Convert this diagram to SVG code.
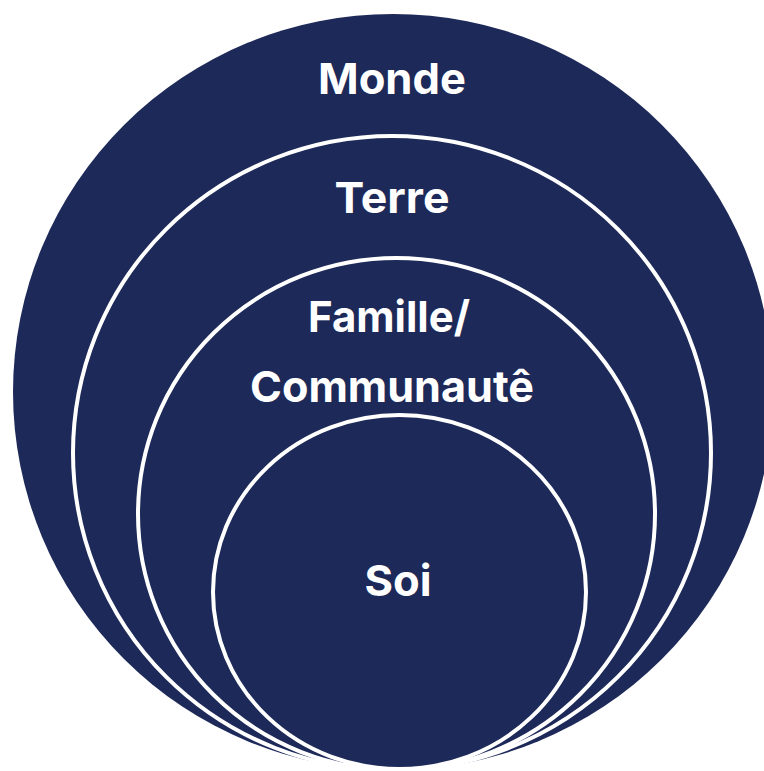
<svg xmlns="http://www.w3.org/2000/svg" width="764" height="771" viewBox="0 0 764 771">
  <style>
    .ring { fill: #1d2958; stroke: #ffffff; stroke-width: 4; }
    .lbl { fill: #ffffff; font-family: Inter, "Liberation Sans", sans-serif; font-weight: 700; font-size: 43px; text-anchor: middle; }
  </style>
  <rect width="764" height="771" fill="#ffffff"/>
  <g id="monde">
    <ellipse cx="393" cy="392" rx="380" ry="378" fill="#1d2958"/>
    <text class="lbl" x="392" y="94" textLength="148" lengthAdjust="spacingAndGlyphs">Monde</text>
  </g>
  <g id="terre">
    <ellipse class="ring" cx="392" cy="453" rx="319" ry="317"/>
    <text class="lbl" x="392" y="213" textLength="115" lengthAdjust="spacingAndGlyphs">Terre</text>
  </g>
  <g id="famille">
    <ellipse class="ring" cx="396.5" cy="514" rx="258.5" ry="256"/>
    <text class="lbl" x="389" y="332" textLength="162" lengthAdjust="spacingAndGlyphs">Famille/</text>
    <text class="lbl" x="392" y="402" textLength="284" lengthAdjust="spacingAndGlyphs">Communautê</text>
  </g>
  <g id="soi">
    <ellipse class="ring" cx="399.5" cy="592" rx="186.5" ry="177"/>
    <text class="lbl" x="398" y="596" textLength="67" lengthAdjust="spacingAndGlyphs">Soi</text>
  </g>
  <g id="connectors"></g>
</svg>
